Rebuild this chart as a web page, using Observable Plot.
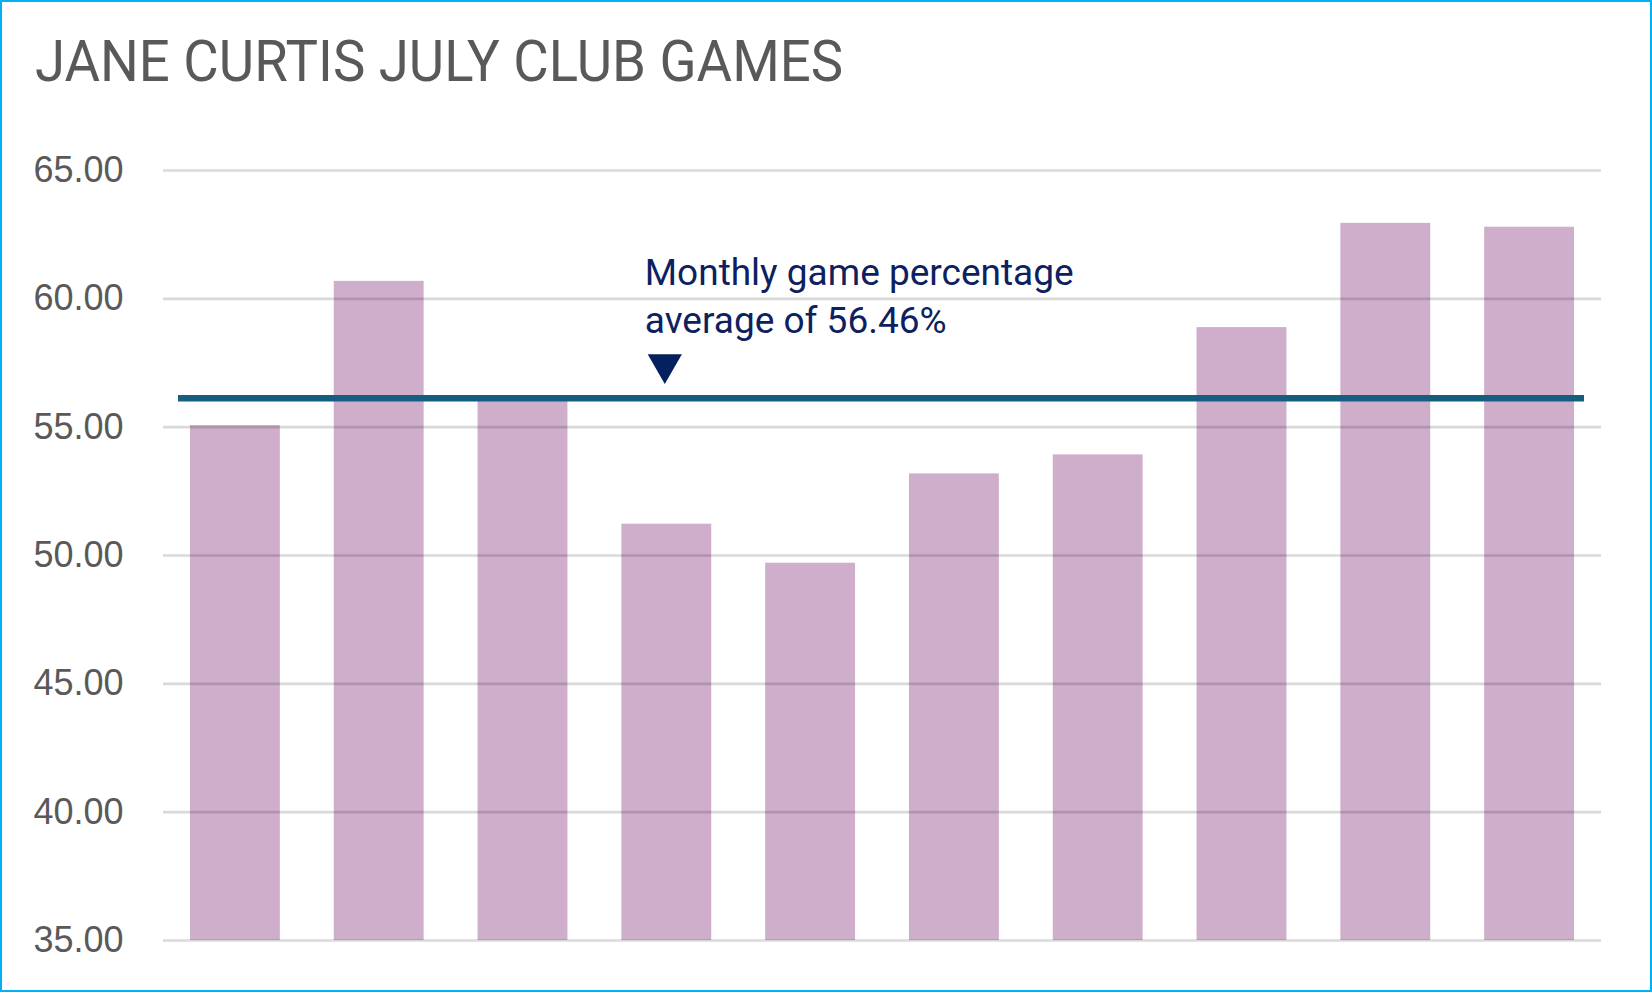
<!DOCTYPE html>
<html>
<head>
<meta charset="utf-8">
<script src="https://cdn.jsdelivr.net/npm/d3@7"></script>
<script src="https://cdn.jsdelivr.net/npm/@observablehq/plot@0.6"></script>
<style>
  html, body { margin: 0; padding: 0; background: #fff; }
  #wrap { position: relative; width: 1652px; height: 992px; overflow: hidden; background: #fff; }
  #chart { position: absolute; left: 0; top: 0; }
  #title { position: absolute; left: 35px; top: 32px; margin: 0; font-family: Roboto, "Liberation Sans", sans-serif;
           font-weight: 400; font-size: 58px; line-height: 1; color: #595959; white-space: nowrap; transform-origin: 0 0; }
  #frame { position: absolute; left: 0; top: 0; right: 0; bottom: 0; border: 2px solid #00b0f0; pointer-events: none; }
</style>
</head>
<body>
<div id="wrap">
  <div id="chart"></div>
  <div id="title"></div>
  <div id="frame"></div>
</div>
<script>
const chartTitle = "JANE CURTIS JULY CLUB GAMES";
const games = ["Game 1", "Game 2", "Game 3", "Game 4", "Game 5", "Game 6", "Game 7", "Game 8", "Game 9", "Game 10"];
const scores = [55.06, 60.68, 56.10, 51.22, 49.70, 53.18, 53.92, 58.88, 62.94, 62.79];
const yTicks = [35, 40, 45, 50, 55, 60, 65];
const averageLine = 56.13;
const annotatedGame = "Game 4";
const annotationLines = ["Monthly game percentage", "average of 56.46%"];

const data = games.map((g, i) => ({game: g, score: scores[i]}));

const triangleDown = {
  draw(ctx, size) {
    const y = Math.sqrt(size / (3 * Math.sqrt(3)));
    const x = Math.sqrt(3) * y;
    ctx.moveTo(0, 2 * y);
    ctx.lineTo(-x, -y);
    ctx.lineTo(x, -y);
    ctx.closePath();
  }
};

const annoFont = "Roboto, 'Noto Sans', sans-serif";

const plot = Plot.plot({
  width: 1652,
  height: 992,
  marginLeft: 163,
  marginRight: 51,
  marginTop: 170,
  marginBottom: 52,
  style: {background: "transparent", fontFamily: "'Liberation Sans', Arial, sans-serif", color: "#595959"},
  x: {domain: games, paddingInner: 0.375, paddingOuter: 0.1875, round: false, axis: null},
  y: {domain: [yTicks[0], yTicks[yTicks.length - 1]]},
  marks: [
    Plot.barY(data, {x: "game", y1: () => yTicks[0], y2: "score", fill: "#cfaecb"}),
    Plot.ruleY(yTicks, {stroke: "black", strokeOpacity: 0.15, strokeWidth: 2.6}),
    Plot.axisY(yTicks, {tickFormat: d => d.toFixed(2), tickSize: 0, tickPadding: 40, fontSize: 36, fill: "#595959", label: null}),
    Plot.ruleY([averageLine], {stroke: "#165e80", strokeWidth: 6.5, insetLeft: 15, insetRight: 17}),
    Plot.dot([annotatedGame], {x: d => d, y: () => averageLine, symbol: triangleDown, r: 12.7, fill: "#04205e", stroke: null, dx: -2, dy: -34}),
    Plot.text([annotationLines[0]], {x: () => annotatedGame, y: () => averageLine, text: d => d, textAnchor: "start",
      dx: -22, dy: -125, fontSize: 37, fontFamily: annoFont, fill: "#0d2161", ariaLabel: "annotation"}),
    Plot.text([annotationLines[1]], {x: () => annotatedGame, y: () => averageLine, text: d => d, textAnchor: "start",
      dx: -22, dy: -77, fontSize: 37, fontFamily: annoFont, fill: "#0d2161", ariaLabel: "annotation"})
  ]
});
document.getElementById("chart").append(plot);

// condense annotation text to match the narrow typeface of the original
const annoTexts = Array.from(plot.querySelectorAll('g[aria-label="annotation"] text'));
if (annoTexts.length) {
  const f = 421 / annoTexts[0].getComputedTextLength();
  annoTexts.forEach(t => {
    const L = t.getComputedTextLength();
    t.setAttribute("textLength", (L * f).toFixed(1));
    t.setAttribute("lengthAdjust", "spacingAndGlyphs");
  });
}

const titleEl = document.getElementById("title");
titleEl.textContent = chartTitle;
const tw = titleEl.getBoundingClientRect().width;
titleEl.style.transform = `scaleX(${808 / tw})`;
</script>
</body>
</html>
